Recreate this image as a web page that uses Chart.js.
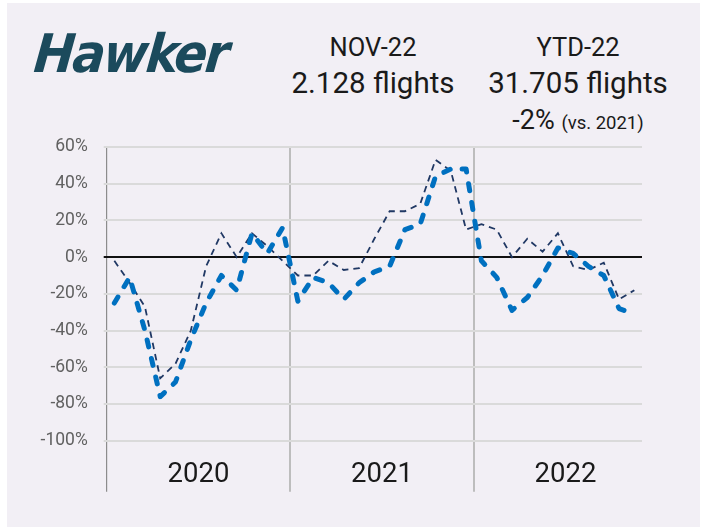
<!DOCTYPE html>
<html>
<head>
<meta charset="utf-8">
<script src="https://cdn.jsdelivr.net/npm/chart.js@4/dist/chart.umd.min.js"></script>
<style>
  html, body { margin: 0; padding: 0; background: #ffffff; }
  body { position: relative; width: 706px; height: 527px; overflow: hidden; font-family: Roboto, "Liberation Sans", sans-serif; color: #1a1a1a; }
  #panel { position: absolute; left: 7px; top: 3px; width: 693px; height: 524px; background: #f2eff5; }
  #chart { position: absolute; left: 0; top: 0; }
  .logo { position: absolute; left: 32px; top: 27px; font-family: "DejaVu Sans", sans-serif; font-weight: bold; font-style: italic;
          font-size: 53px; line-height: 53px; letter-spacing: -2.5px; color: #1b4a5c; transform: scaleX(0.92) skewX(-6deg); transform-origin: left bottom; white-space: nowrap; }
  .head { position: absolute; text-align: center; white-space: nowrap; }
  .t1 { font-size: 25.5px; line-height: 25.5px; }
  .t2 { font-size: 29.5px; line-height: 29.5px; }
  .t3 { font-size: 27px; line-height: 27px; }
  .t3 small { font-size: 18.5px; }
</style>
</head>
<body>
<div id="panel"></div>
<div class="logo">Hawker</div>
<div class="head t1" style="left:273px; width:200px; top:35px;">NOV-22</div>
<div class="head t2" style="left:273px; width:200px; top:69px;">2.128 flights</div>
<div class="head t1" style="left:478px; width:200px; top:35px;">YTD-22</div>
<div class="head t2" style="left:478px; width:200px; top:69px;">31.705 flights</div>
<div class="head t3" style="left:478px; width:200px; top:107px;">-2% <small>(vs. 2021)</small></div>
<canvas id="chart" width="706" height="527"></canvas>
<script>
// Monthly categories, Jan 2020 to Nov 2022
const months = [
  'Jan-20','Feb-20','Mar-20','Apr-20','May-20','Jun-20','Jul-20','Aug-20','Sep-20','Oct-20','Nov-20','Dec-20',
  'Jan-21','Feb-21','Mar-21','Apr-21','May-21','Jun-21','Jul-21','Aug-21','Sep-21','Oct-21','Nov-21','Dec-21',
  'Jan-22','Feb-22','Mar-22','Apr-22','May-22','Jun-22','Jul-22','Aug-22','Sep-22','Oct-22','Nov-22'
];
const years = ['2020', '2021', '2022'];

// Year-on-year change in flights (%)
const hawkerChange = [
  -25, -11, -40, -76, -68, -45, -25, -10, -18, 13, 2, 16,
  -24, -11, -14, -23, -14, -8, -5, 15, 18, 44, 48, 48,
  -2, -11, -29, -22, -10, 5, 2, -5, -10, -28, -31
];
const marketChange = [
  -2, -14, -27, -66, -58, -40, -5, 13, 0, 13, 6, -2,
  -10, -10, -2, -7, -6, 10, 25, 25, 29, 53, 47, 15,
  18, 15, 0, 10, 3, 13, -5, -7, -3, -23, -18
];

// Value axis ticks (%)
const yTickValues = [-100, -80, -60, -40, -20, 0, 20, 40, 60];
const monthsPerYear = 12;

function build() {
  const ctx = document.getElementById('chart').getContext('2d');
  new Chart(ctx, {
    type: 'line',
    data: {
      labels: months,
      datasets: [
        {
          label: 'Hawker',
          data: hawkerChange,
          borderColor: '#0070c0',
          borderWidth: 5,
          borderDash: [7, 12],
          borderCapStyle: 'round',
          borderJoinStyle: 'round',
          pointRadius: 0,
          tension: 0,
          fill: false,
          order: 0,
          xAxisID: 'x',
          yAxisID: 'y'
        },
        {
          label: 'Market',
          data: marketChange,
          borderColor: '#203864',
          borderWidth: 1.8,
          borderDash: [6.5, 5],
          borderCapStyle: 'butt',
          pointRadius: 0,
          tension: 0,
          fill: false,
          order: 1,
          xAxisID: 'x',
          yAxisID: 'y'
        }
      ]
    },
    options: {
      responsive: false,
      animation: false,
      devicePixelRatio: 1,
      layout: { padding: { left: 0, right: 64, top: 147, bottom: 0 } },
      plugins: { legend: { display: false }, tooltip: { enabled: false } },
      scales: {
        x: {
          type: 'category',
          display: false,
          offset: true
        },
        years: {
          type: 'linear',
          position: 'bottom',
          min: 0,
          max: months.length,
          z: -1,
          afterBuildTicks: (axis) => {
            const ticks = [];
            for (let v = 0; v < months.length; v += monthsPerYear / 2) ticks.push({ value: v });
            axis.ticks = ticks;
          },
          afterFit: (axis) => { axis.height = 86.3; },
          border: { display: false },
          grid: {
            drawOnChartArea: true,
            drawTicks: true,
            tickLength: 51,
            color: (c) => {
              if (!c.tick) return 'rgba(0,0,0,0)';
              if (c.tick.value === 0) return '#8c8c8c';
              return c.tick.value % monthsPerYear === 0 ? '#bdbdbd' : 'rgba(0,0,0,0)';
            },
            tickColor: (c) => {
              if (!c.tick) return 'rgba(0,0,0,0)';
              if (c.tick.value === 0) return '#8c8c8c';
              return c.tick.value % monthsPerYear === 0 ? '#bdbdbd' : 'rgba(0,0,0,0)';
            },
            lineWidth: (c) => (c.tick && c.tick.value === 0 ? 1.2 : 2)
          },
          ticks: {
            autoSkip: false,
            maxRotation: 0,
            padding: -33,
            color: '#1a1a1a',
            font: { family: 'Roboto', size: 27.5 },
            callback: (v) => (v % monthsPerYear === monthsPerYear / 2 ? years[(v - monthsPerYear / 2) / monthsPerYear] : '')
          }
        },
        y: {
          min: -100,
          max: 60,
          afterBuildTicks: (axis) => { axis.ticks = yTickValues.map(v => ({ value: v })); },
          afterFit: (axis) => { axis.width = 106.7; },
          border: { display: false },
          grid: {
            color: (c) => (c.tick && c.tick.value === 0 ? '#111111' : '#dadada'),
            tickColor: (c) => (c.tick && c.tick.value === 0 ? '#111111' : '#dadada'),
            lineWidth: 2,
            tickLength: 3
          },
          ticks: {
            padding: 16,
            color: '#616161',
            font: { family: 'Roboto', size: 17.5 },
            callback: (v) => v + '%'
          }
        }
      }
    }
  });
}

const fontLoads = [
  document.fonts.load('16px Roboto'),
  document.fonts.load('bold italic 53px "DejaVu Sans"')
];
Promise.all(fontLoads).then(build, build);
</script>
</body>
</html>
